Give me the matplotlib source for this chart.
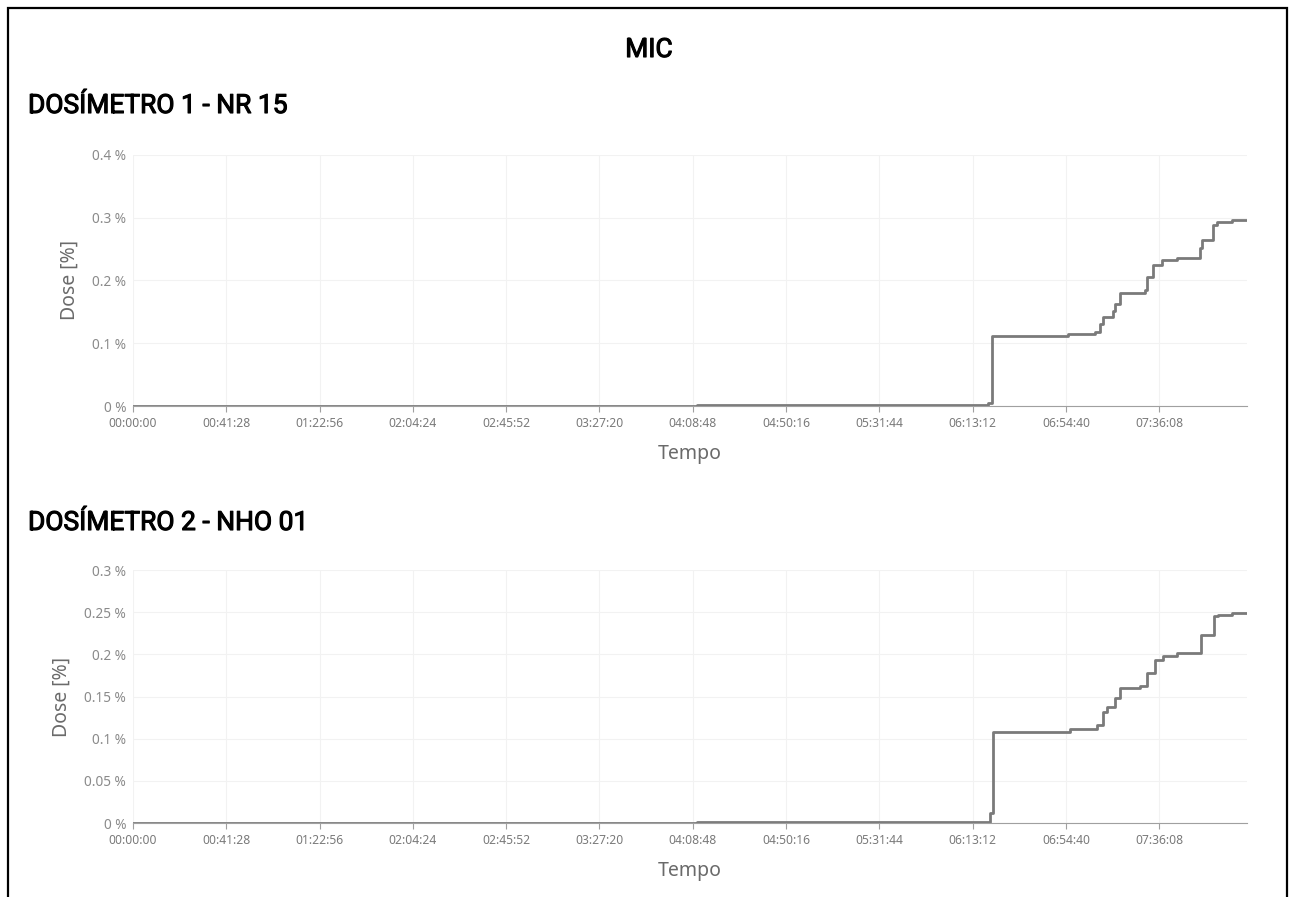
import matplotlib.pyplot as plt
import matplotlib.patheffects as pe
from matplotlib.patches import Rectangle
from matplotlib.ticker import FuncFormatter

# tempo em segundos, dose em %
t1 = [0, 15040, 22800, 22910, 24940, 25660, 25790, 25870, 26140, 26190, 26320,
      26990, 27040, 27200, 27440, 27840, 28460, 28510, 28800, 28910, 29310, 29710]
d1 = [0, 0.001, 0.004, 0.112, 0.115, 0.118, 0.13, 0.142, 0.152, 0.163, 0.180,
      0.185, 0.205, 0.225, 0.233, 0.236, 0.251, 0.264, 0.289, 0.294, 0.297, 0.297]

t2 = [0, 15040, 22850, 22930, 24990, 25710, 25870, 25980, 26190, 26320,
      26860, 27040, 27250, 27470, 27840, 28480, 28830, 28940, 29310, 29710]
d2 = [0, 0.001, 0.012, 0.108, 0.1115, 0.116, 0.132, 0.138, 0.148, 0.160,
      0.162, 0.178, 0.193, 0.198, 0.201, 0.223, 0.2456, 0.2467, 0.2488, 0.2488]

xticks = [0, 2488, 4976, 7464, 9952, 12440, 14928, 17416, 19904, 22392, 24880, 27368]
yticks1 = [0, 0.1, 0.2, 0.3, 0.4]
yticks2 = [0, 0.05, 0.1, 0.15, 0.2, 0.25, 0.3]

W, H = 1289, 897
fig = plt.figure(figsize=(W / 100, H / 100), dpi=100)
plt.rcParams['font.family'] = ['Noto Sans', 'DejaVu Sans']


def hms(v, pos=None):
    v = int(round(v))
    return f'{v // 3600:02d}:{(v % 3600) // 60:02d}:{v % 60:02d}'


def pct(v, pos=None):
    return f'{v:g} %'


def make_axes(box, t, d, yticks):
    left, top, right, bottom = box
    ax = fig.add_axes([left / W, 1 - bottom / H, (right - left) / W, (bottom - top) / H])
    ax.step(t, d, where='post', color='#7a7a7a', lw=2)
    ax.set_xlim(0, 29710)
    ax.set_ylim(0, yticks[-1])
    ax.set_xticks(xticks)
    ax.set_yticks(yticks)
    ax.xaxis.set_major_formatter(FuncFormatter(hms))
    ax.yaxis.set_major_formatter(FuncFormatter(pct))
    ax.grid(True, color='#f2f2f2', lw=0.8)
    for s in ['top', 'right', 'left']:
        ax.spines[s].set_visible(False)
    ax.spines['bottom'].set_color('#a0a0a0')
    ax.tick_params(axis='x', colors='#a0a0a0', labelcolor='#7a7a7a', labelsize=8.7, length=4, pad=4)
    ax.tick_params(axis='y', length=0, labelcolor='#8a8a8a', labelsize=9.8, pad=5)
    ax.set_xlabel('Tempo', color='#6a6a6a', fontsize=14, labelpad=10)
    ax.set_ylabel('Dose [%]', color='#6a6a6a', fontsize=14, labelpad=9)
    return ax


make_axes((133, 155, 1247, 406), t1, d1, yticks1)
make_axes((133, 570, 1247, 823), t2, d2, yticks2)

# Roboto Medium look: regular face with a thin stroke
medium = [pe.withStroke(linewidth=0.8, foreground='black')]
fig.text(649 / W, 1 - 50 / H, 'MIC', ha='center', va='center', fontsize=19,
         family='Roboto', path_effects=medium)
fig.text(28 / W, 1 - 113 / H, 'DOSÍMETRO 1 - NR 15', ha='left', va='baseline',
         fontsize=19, family='Roboto', path_effects=medium)
fig.text(28 / W, 1 - 530 / H, 'DOSÍMETRO 2 - NHO 01', ha='left', va='baseline',
         fontsize=19, family='Roboto', path_effects=medium)

fig.patches.append(Rectangle((7.5 / W, -0.05), 1279 / W, 1 - 7.5 / H + 0.05,
                             transform=fig.transFigure, fill=False,
                             edgecolor='black', lw=1.6))

fig.savefig('out.png', dpi=100)
